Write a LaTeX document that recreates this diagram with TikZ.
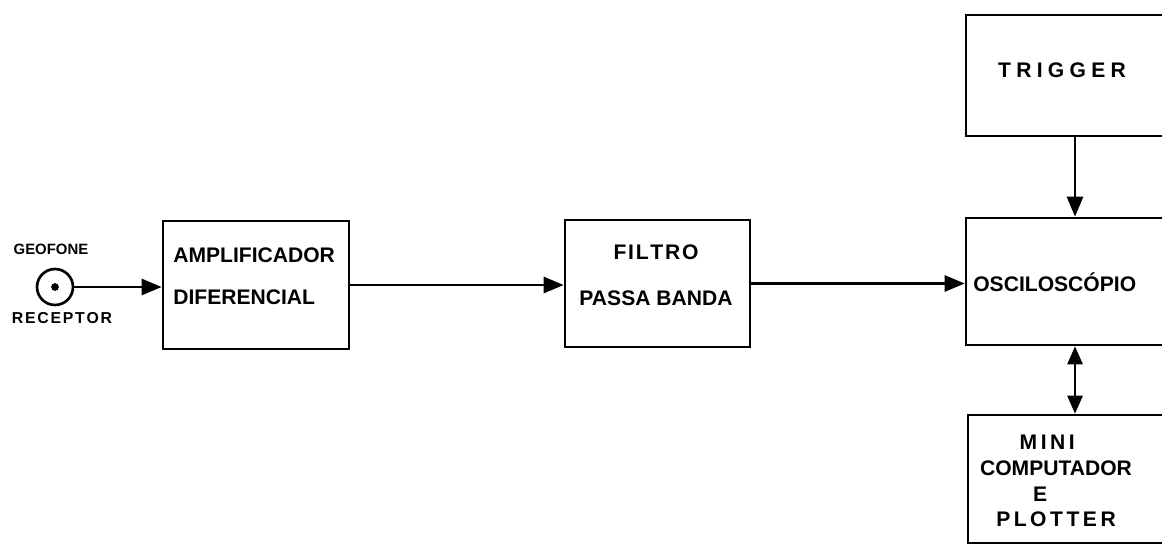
\documentclass[tikz,border=0pt]{standalone}
\usepackage{fontspec}
\setmainfont{Liberation Sans}
\usetikzlibrary{positioning,calc,arrows.meta}

\begin{document}
\begin{tikzpicture}
        [x=0.02cm,y=-0.02cm,
        line width=1.5pt,
        every node/.style={font=\bfseries\fontsize{12}{14}\selectfont},
        blk/.style={draw,rectangle,inner sep=0pt,line width=1.5pt},
        lbl/.style={inner sep=0pt},
        flow/.style={-{Triangle[length=0.4cm,width=0.32cm]}},
        both/.style={{Triangle[length=0.36cm,width=0.3cm]}-{Triangle[length=0.36cm,width=0.3cm]}}]
        \clip (0,0) rectangle (1162,547);
        % sensor
        \node[draw,circle,minimum size=0.72cm,inner sep=0pt,line width=1.5pt] (geo) at (55,287) {};
        \fill (geo.center) circle (2.2pt);
        \node[lbl,font=\bfseries\fontsize{8.5}{10}\selectfont] (geoTop) at (51,249) {GEOFONE};
        \node[lbl,font=\bfseries\fontsize{9}{10}\selectfont] (geoBot) at (62,318) {R\kern1pt E\kern1pt C\kern1pt E\kern1pt P\kern1pt T\kern1pt O\kern1pt R};
        % chain of boxes
        \node[blk,minimum width=3.72cm,minimum height=2.56cm] (amp) at (256,285) {};
        \node[lbl,anchor=west,align=left,font=\bfseries\fontsize{12}{24}\selectfont] (ampTxt) at (172,276) {AMPLIFICADOR\\DIFERENCIAL};
        \node[blk,minimum width=3.70cm,minimum height=2.54cm] (filt) at (657.5,283.5) {};
        \node[lbl,align=center,font=\bfseries\fontsize{12}{26}\selectfont] (filtTxt) at (656,275) {F\kern1pt I\kern1pt L\kern1pt T\kern1pt R\kern1pt O\\PASSA BANDA};
        % right column, cut by the page edge
        \node[blk,minimum width=4.68cm,minimum height=2.42cm] (trig) at (1083,75.5) {};
        \node[lbl] (trigTxt) at (1062,70) {T\kern3pt R\kern3pt I\kern3pt G\kern3pt G\kern3pt E\kern3pt R};
        \node[blk,minimum width=4.68cm,minimum height=2.54cm] (osc) at (1083,281.5) {};
        \node[lbl,anchor=west] (oscTxt) at (972,282) {OSCILOSCÓPIO};
        \node[blk,minimum width=4.64cm,minimum height=2.56cm] (mini) at (1084,479) {};
        \node[lbl,align=center,font=\bfseries\fontsize{12}{14.7}\selectfont] (miniTxt) at (1056,481)
            {M\,I\,N\,I\kern10pt\\COMPUTADOR\\E\kern18pt\\P\,L\,O\,T\,T\,E\,R};
        \coordinate (vx) at (1075,0);
        % connectors
        \draw[flow] (geo.east) -- (geo.east -| amp.west);
        \draw[flow] (amp.east) -- (amp.east -| filt.west);
        \draw[flow] (filt.east) -- (filt.east -| osc.west);
        \draw[flow] (trig.south -| vx) -- (osc.north -| vx);
        \draw[both] (osc.south -| vx) -- (mini.north -| vx);
\end{tikzpicture}
\end{document}
